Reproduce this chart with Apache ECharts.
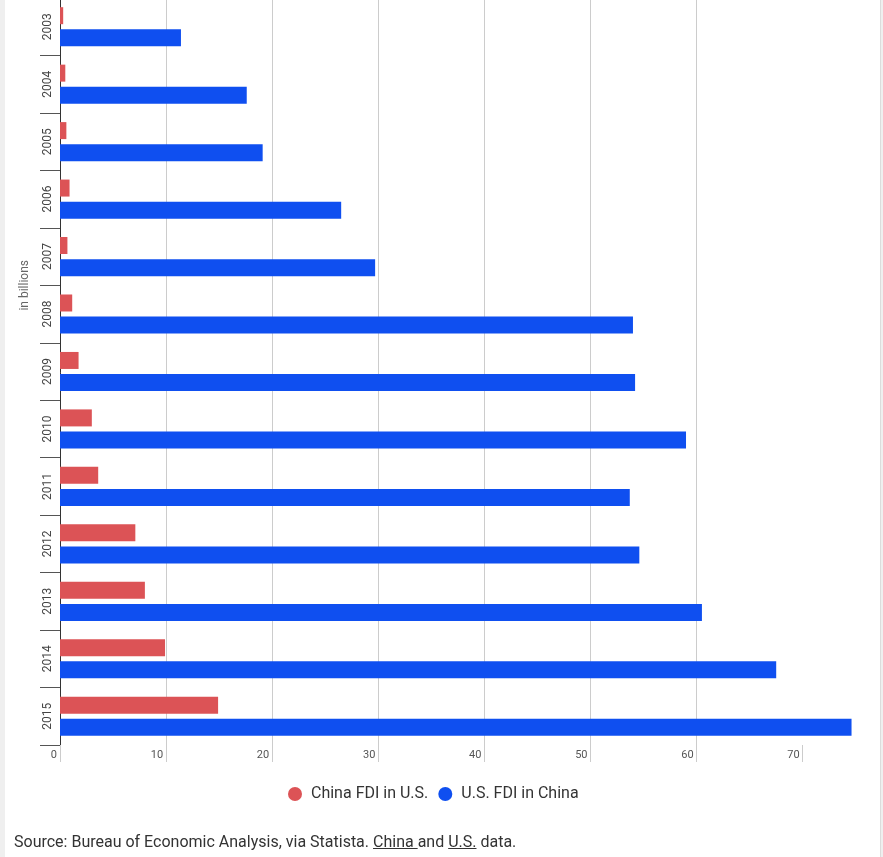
<!DOCTYPE html>
<html><head><meta charset="utf-8">
<script src="https://cdn.jsdelivr.net/npm/echarts@6/dist/echarts.min.js"></script>
<style>
html,body{margin:0;padding:0;background:#efefef;width:883px;height:857px;overflow:hidden;font-family:Roboto,sans-serif;}
#panel{position:absolute;left:5px;top:0;width:875px;height:857px;background:#fff;border-right:1px solid #dcdcdc;}
#chart{position:absolute;left:0;top:0;width:875px;height:857px;}
#src{position:absolute;left:9px;top:833px;font-size:16px;line-height:18px;color:#333;font-family:Roboto,sans-serif;}
</style></head>
<body>
<div id="panel"><div id="chart"></div><div id="src">Source: Bureau of Economic Analysis, via Statista. <u>China </u>and <u>U.S.</u> data.</div></div>
<script>
var years = ['2003','2004','2005','2006','2007','2008','2009','2010','2011','2012','2013','2014','2015'];
var chinaFdiInUS = [0.3,0.5,0.6,0.9,0.7,1.15,1.75,3.0,3.6,7.1,8.0,9.9,14.9];
var usFdiInChina = [11.4,17.6,19.1,26.5,29.7,54.0,54.2,59.0,53.7,54.6,60.5,67.5,74.6];
var xTicks = [0,10,20,30,40,50,60,70];
var seriesNames = ['China FDI in U.S.','U.S. FDI in China'];

var chart = echarts.init(document.getElementById('chart'));
chart.setOption({
  animation:false,
  textStyle:{fontFamily:'Roboto'},
  grid:{left:55,right:3,top:-2,bottom:112,containLabel:false,outerBoundsMode:'none'},
  legend:{
    data:seriesNames, left:278, top:781, icon:'circle', itemWidth:14, itemHeight:14, itemGap:10,
    textStyle:{fontSize:16,color:'#333',fontFamily:'Roboto',padding:[0,0,0,4]}
  },
  xAxis:{
    type:'value', min:0, max:77, interval:10,
    axisLine:{show:false},
    axisTick:{show:true,length:17,lineStyle:{color:'#cccccc'},customValues:xTicks},
    axisLabel:{customValues:xTicks,fontSize:11,color:'#555',align:'right',padding:[0,3,0,0],margin:5},
    splitLine:{show:true,showMaxLine:false,lineStyle:{color:'#cccccc',width:1}}
  },
  yAxis:{
    type:'category', data:years, inverse:true,
    axisLine:{show:true,lineStyle:{color:'#333',width:1}},
    axisTick:{show:true,length:20,lineStyle:{color:'#555'}},
    axisLabel:{rotate:90,fontSize:12,color:'#444',margin:6}
  },
  graphic:[{
    type:'text', left:14, top:260,
    style:{text:'in billions',fontSize:12,fill:'#666',fontFamily:'Roboto'},
    rotation:Math.PI/2
  }],
  series:[
    {name:seriesNames[0],type:'bar',data:chinaFdiInUS,barWidth:17,barGap:'30%',itemStyle:{color:'#dc5356'}},
    {name:seriesNames[1],type:'bar',data:usFdiInChina,barWidth:17,barGap:'30%',itemStyle:{color:'#0f4ff0'}}
  ]
});
</script>
</body></html>
